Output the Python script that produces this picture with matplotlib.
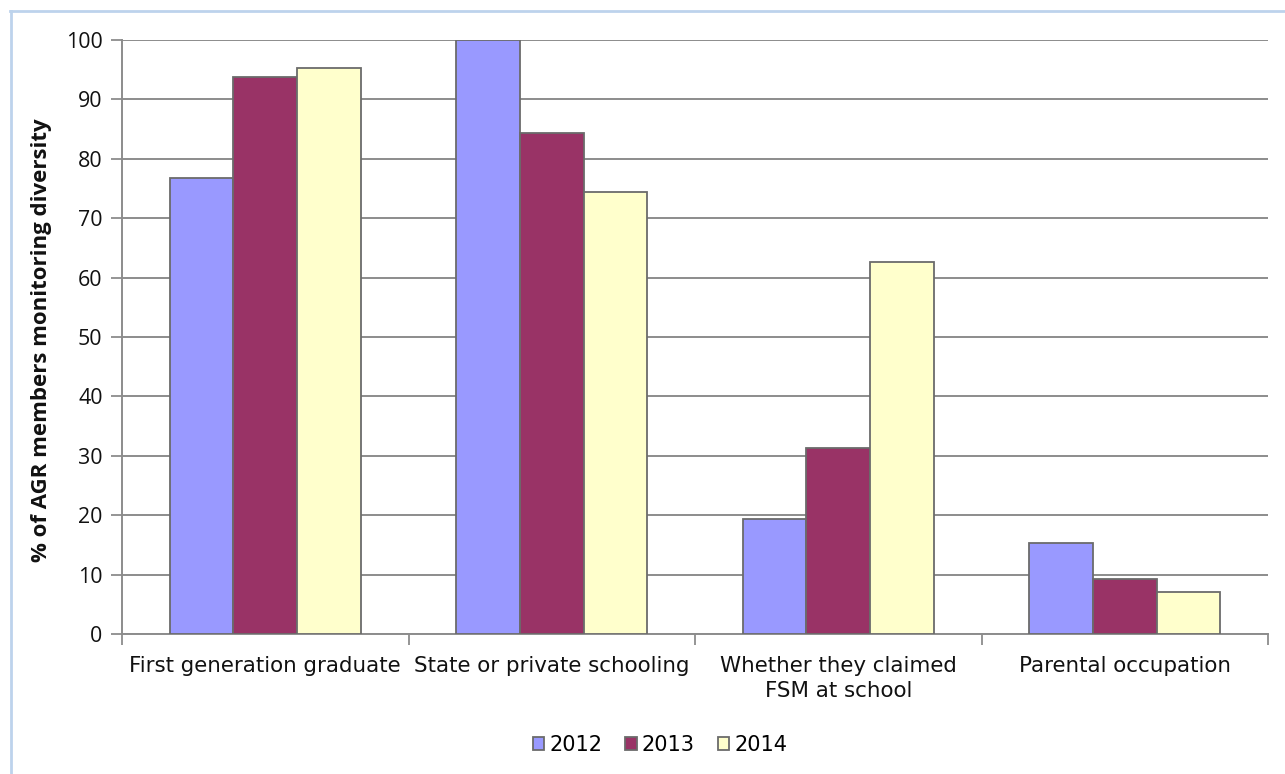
import numpy as np
import matplotlib.pyplot as plt
from matplotlib.lines import Line2D

categories = ["First generation graduate", "State or private schooling",
              "Whether they claimed\nFSM at school", "Parental occupation"]
years = ["2012", "2013", "2014"]
v2012 = [76.8, 100.0, 19.3, 15.4]
v2013 = [93.8, 84.3, 31.3, 9.3]
v2014 = [95.3, 74.4, 62.7, 7.0]
colors = ["#9999ff", "#993366", "#ffffcc"]

fig = plt.figure(figsize=(12.85, 7.74), dpi=100)
ax = fig.add_axes([122 / 1285, 1 - 634 / 774, 1146 / 1285, 594 / 774])

x = np.arange(len(categories)) + 0.5
w = 1 / 4.5
for i, vals in enumerate([v2012, v2013, v2014]):
    ax.bar(x + (i - 1) * w, vals, width=w, color=colors[i], edgecolor="#6b6b6b",
           linewidth=1.3, label=years[i], zorder=3)

ax.set_xlim(0, 4)
ax.set_ylim(0, 100)
ax.set_yticks(np.arange(0, 101, 10))
ax.yaxis.grid(True, color="#8c8c8c", linewidth=1.4, zorder=0)
ax.set_axisbelow(True)

# category labels in the middle, tick marks on the boundaries
ax.set_xticks(x)
ax.set_xticklabels(categories, fontsize=15.4, family="DejaVu Sans", color="#111111",
                   linespacing=1.3)
ax.tick_params(axis="x", which="major", length=0, pad=16)
ax.set_xticks(np.arange(0, 5), minor=True)
ax.tick_params(axis="x", which="minor", length=8, width=1.3, color="#8c8c8c")
ax.tick_params(axis="y", length=8, width=1.3, color="#8c8c8c", pad=6)
for lab in ax.get_yticklabels():
    lab.set_fontsize(15.4)
    lab.set_family("Open Sans")
    lab.set_color("#111111")

for s in ["top", "right"]:
    ax.spines[s].set_visible(False)
for s in ["left", "bottom"]:
    ax.spines[s].set_color("#8c8c8c")
    ax.spines[s].set_linewidth(1.4)

fig.text(42 / 1285, 1 - 340 / 774, "% of AGR members monitoring diversity",
         rotation=90, ha="center", va="center", fontsize=16,
         fontweight="bold", family="Open Sans", color="#111111")

leg = fig.legend(loc="center", bbox_to_anchor=(660 / 1285, 1 - 745 / 774),
                 ncol=3, frameon=False, fontsize=15, handlelength=0.55,
                 handleheight=0.55, handletextpad=0.25, columnspacing=1.1)
for t in leg.get_texts():
    t.set_family("DejaVu Sans")

# outer frame (left and top edges)
fig.add_artist(Line2D([10.5 / 1285, 10.5 / 1285], [0, 1 - 11 / 774],
                      transform=fig.transFigure, color="#bdd3ec", linewidth=2))
fig.add_artist(Line2D([10 / 1285, 1], [1 - 11 / 774, 1 - 11 / 774],
                      transform=fig.transFigure, color="#bdd3ec", linewidth=2))

fig.savefig("out.png", dpi=100)
